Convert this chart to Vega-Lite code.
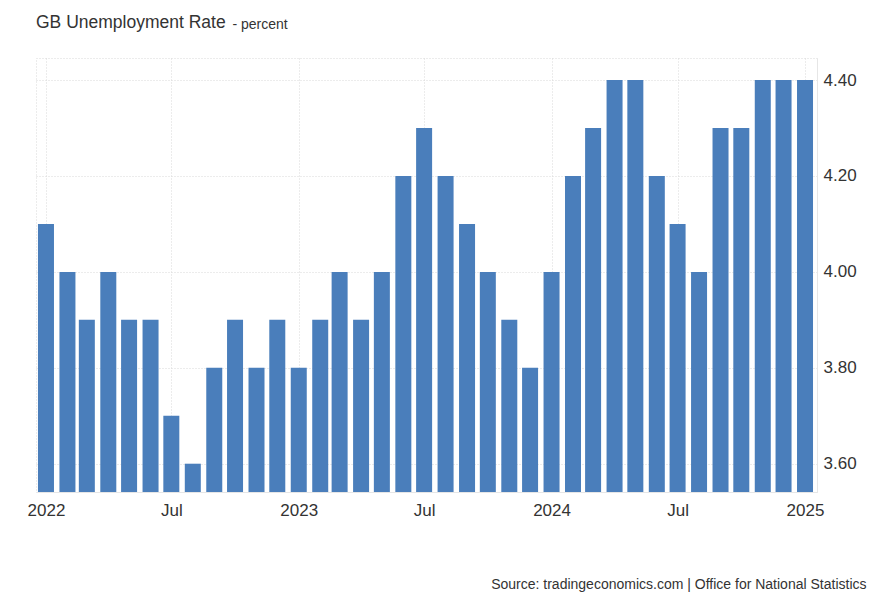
{
  "$schema": "https://vega.github.io/schema/vega-lite/v6.json",
  "autosize": "none",
  "width": 781,
  "height": 434,
  "padding": {"left": 36, "top": 58, "right": 65, "bottom": 111},
  "background": "white",
  "title": {
    "text": "GB Unemployment Rate",
    "anchor": "start",
    "frame": "group",
    "font": "Liberation Sans",
    "fontSize": 17.5,
    "fontWeight": "normal",
    "color": "#333333",
    "baseline": "alphabetic",
    "offset": 0,
    "dy": 28
  },
  "data": {
    "values": [
      {"date": "2022-01-01", "rate": 4.1},
      {"date": "2022-02-01", "rate": 4.0},
      {"date": "2022-03-01", "rate": 3.9},
      {"date": "2022-04-01", "rate": 4.0},
      {"date": "2022-05-01", "rate": 3.9},
      {"date": "2022-06-01", "rate": 3.9},
      {"date": "2022-07-01", "rate": 3.7},
      {"date": "2022-08-01", "rate": 3.6},
      {"date": "2022-09-01", "rate": 3.8},
      {"date": "2022-10-01", "rate": 3.9},
      {"date": "2022-11-01", "rate": 3.8},
      {"date": "2022-12-01", "rate": 3.9},
      {"date": "2023-01-01", "rate": 3.8},
      {"date": "2023-02-01", "rate": 3.9},
      {"date": "2023-03-01", "rate": 4.0},
      {"date": "2023-04-01", "rate": 3.9},
      {"date": "2023-05-01", "rate": 4.0},
      {"date": "2023-06-01", "rate": 4.2},
      {"date": "2023-07-01", "rate": 4.3},
      {"date": "2023-08-01", "rate": 4.2},
      {"date": "2023-09-01", "rate": 4.1},
      {"date": "2023-10-01", "rate": 4.0},
      {"date": "2023-11-01", "rate": 3.9},
      {"date": "2023-12-01", "rate": 3.8},
      {"date": "2024-01-01", "rate": 4.0},
      {"date": "2024-02-01", "rate": 4.2},
      {"date": "2024-03-01", "rate": 4.3},
      {"date": "2024-04-01", "rate": 4.4},
      {"date": "2024-05-01", "rate": 4.4},
      {"date": "2024-06-01", "rate": 4.2},
      {"date": "2024-07-01", "rate": 4.1},
      {"date": "2024-08-01", "rate": 4.0},
      {"date": "2024-09-01", "rate": 4.3},
      {"date": "2024-10-01", "rate": 4.3},
      {"date": "2024-11-01", "rate": 4.4},
      {"date": "2024-12-01", "rate": 4.4},
      {"date": "2025-01-01", "rate": 4.4}
    ]
  },
  "mark": {"type": "bar", "color": "#4a7ebb", "width": 16, "clip": true},
  "encoding": {
    "x": {
      "field": "date",
      "type": "temporal",
      "scale": {"domain": [1639751040000, 1737184320000], "padding": 0},
      "axis": {
        "values": [1640995200000, 1656633600000, 1672531200000, 1688169600000, 1704067200000, 1719792000000, 1735689600000],
        "labelExpr": "utcmonth(datum.value) == 0 ? utcFormat(datum.value, '%Y') : 'Jul'",
        "labelFont": "Liberation Sans",
        "labelFontSize": 17,
        "labelColor": "#333333",
        "labelPadding": 10,
        "labelFlush": false,
        "ticks": false,
        "domain": true,
        "domainColor": "#e6e6e6",
        "grid": true,
        "gridColor": "#d9d9d9",
        "gridDash": [1, 2],
        "title": "Source: tradingeconomics.com | Office for National Statistics",
        "titleFont": "Liberation Sans",
        "titleFontSize": 14,
        "titleFontWeight": "normal",
        "titleColor": "#333333",
        "titleAlign": "right",
        "titleBaseline": "alphabetic",
        "titleX": 830,
        "titleY": 96
      }
    },
    "y": {
      "field": "rate",
      "type": "quantitative",
      "scale": {"domain": [3.541, 4.446], "zero": false, "nice": false, "padding": 0},
      "axis": {
        "orient": "right",
        "values": [3.6, 3.8, 4.0, 4.2, 4.4],
        "format": ".2f",
        "labelFont": "Liberation Sans",
        "labelFontSize": 17,
        "labelColor": "#333333",
        "labelPadding": 6,
        "ticks": false,
        "domain": true,
        "domainColor": "#e6e6e6",
        "grid": true,
        "gridColor": "#d9d9d9",
        "gridDash": [1, 2],
        "title": "- percent",
        "titleFont": "Liberation Sans",
        "titleFontSize": 14,
        "titleFontWeight": "normal",
        "titleColor": "#333333",
        "titleAngle": 0,
        "titleAlign": "left",
        "titleBaseline": "alphabetic",
        "titleX": -585,
        "titleY": -30
      }
    },
    "y2": {"datum": 3.541}
  },
  "config": {
    "view": {"stroke": "#d9d9d9", "strokeDash": [1, 2]}
  }
}
